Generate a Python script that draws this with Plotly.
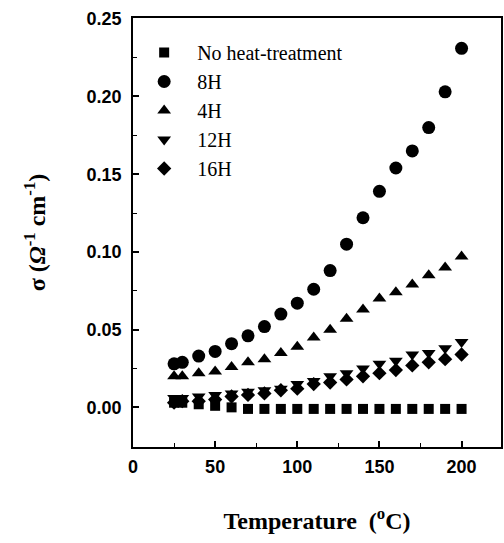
import plotly.graph_objects as go

temps = [25, 30, 40, 50, 60, 70, 80, 90, 100, 110, 120, 130, 140, 150, 160, 170, 180, 190, 200]

sig_none = [0.003, 0.003, 0.002, 0.001, 0.000, -0.001, -0.001, -0.001, -0.001, -0.001,
            -0.001, -0.001, -0.001, -0.001, -0.001, -0.001, -0.001, -0.001, -0.001]
sig_8h = [0.028, 0.029, 0.033, 0.036, 0.041, 0.046, 0.052, 0.060, 0.067, 0.076,
          0.088, 0.105, 0.122, 0.139, 0.154, 0.165, 0.180, 0.203, 0.231]
sig_4h = [0.020, 0.020, 0.022, 0.023, 0.026, 0.029, 0.031, 0.035, 0.039, 0.045,
          0.050, 0.057, 0.063, 0.070, 0.074, 0.079, 0.085, 0.090, 0.097]
sig_12h = [0.006, 0.006, 0.007, 0.008, 0.009, 0.010, 0.011, 0.012, 0.015, 0.017,
           0.020, 0.022, 0.025, 0.028, 0.030, 0.034, 0.035, 0.038, 0.042]
sig_16h = [0.003, 0.004, 0.004, 0.005, 0.007, 0.008, 0.009, 0.011, 0.012, 0.015,
           0.016, 0.018, 0.020, 0.022, 0.024, 0.027, 0.029, 0.031, 0.034]

series_names = ["No heat-treatment", "8H", "4H", "12H", "16H"]
series_values = [sig_none, sig_8h, sig_4h, sig_12h, sig_16h]
symbols = ["square", "circle", "triangle-up", "triangle-down", "diamond"]
sizes = [10, 13, 12, 12, 11]

x_ticks = [0, 50, 100, 150, 200]
y_ticks = [0.00, 0.05, 0.10, 0.15, 0.20, 0.25]

fig = go.Figure()
for name, vals, sym, sz in zip(series_names, series_values, symbols, sizes):
    fig.add_trace(go.Scatter(
        x=temps, y=vals, mode="markers", name=name,
        marker=dict(symbol=sym, size=sz, color="black", line=dict(width=0)),
    ))

tick_font = dict(family="Liberation Sans", size=18, color="black", weight="bold")
title_font = dict(family="Liberation Serif", size=24, color="black", weight="bold")

fig.update_layout(
    width=504, height=543,
    margin=dict(l=133, r=1, t=18, b=96),
    paper_bgcolor="white", plot_bgcolor="white",
    showlegend=True,
    legend=dict(
        x=-0.005, y=0.965, xanchor="left", yanchor="top",
        font=dict(family="Liberation Serif", size=20, color="black"),
        bgcolor="rgba(0,0,0,0)", borderwidth=0, tracegroupgap=0,
        itemwidth=56,
    ),
    xaxis=dict(
        range=[0, 224], tickvals=x_ticks, ticktext=[str(v) for v in x_ticks],
        showgrid=False, zeroline=False,
        showline=True, linecolor="black", linewidth=1.5, mirror=True,
        ticks="inside", ticklen=6, tickwidth=1.5, tickcolor="black",
        minor=dict(ticks="inside", ticklen=4, tickwidth=1, tickcolor="black", dtick=25, tick0=0),
        tickfont=tick_font, ticklabelstandoff=3,
        title=dict(text="Temperature  (<sup>o</sup>C)", font=title_font, standoff=36),
    ),
    yaxis=dict(
        range=[-0.0255, 0.2505], tickvals=y_ticks, ticktext=[f"{v:.2f}" for v in y_ticks],
        showgrid=False, zeroline=False,
        showline=True, linecolor="black", linewidth=1.5, mirror=True,
        ticks="inside", ticklen=6, tickwidth=1.5, tickcolor="black",
        minor=dict(ticks="inside", ticklen=4, tickwidth=1, tickcolor="black", dtick=0.025, tick0=0),
        tickfont=tick_font, ticklabelstandoff=6,
        title=dict(text="σ (<i>Ω</i><sup>-1</sup> cm<sup>-1</sup>)", font=title_font, standoff=34),
    ),
)

fig.write_html("out.html")
